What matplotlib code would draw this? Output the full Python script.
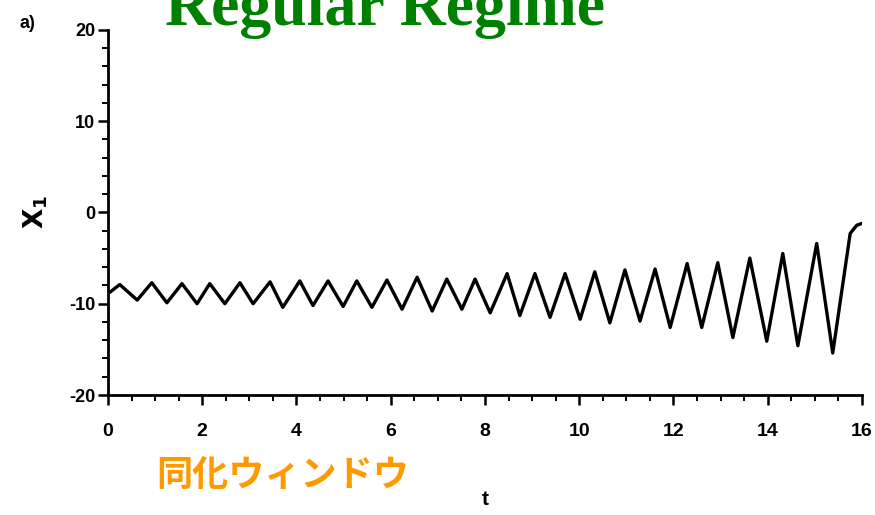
import numpy as np
import matplotlib
matplotlib.use("Agg")
import matplotlib.pyplot as plt
from matplotlib.ticker import MultipleLocator

# peaks and troughs of x1(t)
t = [0.0, 0.25, 0.62, 0.93, 1.25, 1.57, 1.89, 2.16, 2.48, 2.80, 3.08, 3.44,
     3.71, 4.07, 4.35, 4.67, 4.99, 5.28, 5.60, 5.92, 6.24, 6.56, 6.88, 7.19,
     7.51, 7.79, 8.11, 8.47, 8.74, 9.06, 9.38, 9.70, 10.02, 10.33, 10.65,
     10.97, 11.29, 11.61, 11.93, 12.29, 12.60, 12.94, 13.26, 13.62, 13.98,
     14.32, 14.64, 15.04, 15.38, 15.75, 15.89, 16.0]
x1 = [-8.9, -7.9, -9.6, -7.7, -9.9, -7.8, -10.0, -7.8, -10.0, -7.7, -10.0, -7.6,
      -10.4, -7.5, -10.2, -7.5, -10.3, -7.5, -10.4, -7.4, -10.6, -7.1, -10.8, -7.3,
      -10.6, -7.3, -11.0, -6.7, -11.3, -6.7, -11.5, -6.7, -11.7, -6.5, -12.1,
      -6.3, -11.9, -6.2, -12.6, -5.6, -12.6, -5.5, -13.7, -5.0, -14.1,
      -4.5, -14.6, -3.4, -15.4, -2.3, -1.4, -1.2]

x_ticks = [0, 2, 4, 6, 8, 10, 12, 14, 16]
y_ticks = [-20, -10, 0, 10, 20]

fig = plt.figure(figsize=(8.75, 5.15), dpi=100)
ax = fig.add_axes([0.1234, 0.233, 0.8617, 0.709])

ax.plot(t, x1, color="black", linewidth=2.4, solid_joinstyle="round",
        solid_capstyle="round")

ax.set_xlim(0, 16)
ax.set_ylim(-20, 20)
ax.set_xticks(x_ticks)
ax.set_yticks(y_ticks)
ax.xaxis.set_minor_locator(MultipleLocator(0.5))
ax.yaxis.set_minor_locator(MultipleLocator(2))

for side in ["top", "right"]:
    ax.spines[side].set_visible(False)
for side in ["left", "bottom"]:
    ax.spines[side].set_linewidth(2)

ax.set_xticklabels([str(v) for v in x_ticks],
                   fontdict={"family": "Liberation Sans", "weight": "bold", "size": 14})
ax.set_yticklabels([str(v) for v in y_ticks],
                   fontdict={"family": "Liberation Sans", "weight": "bold", "size": 13})
ax.tick_params(axis="both", which="major", length=7, width=1.8, direction="out")
ax.tick_params(axis="both", which="minor", length=4, width=1.4, direction="out")
ax.tick_params(axis="x", which="major", pad=13)
ax.tick_params(axis="y", which="major", pad=2)

ax.set_xlabel("t", fontsize=15, fontweight="bold", family="Liberation Sans",
              labelpad=36)
ax.set_ylabel(r"$\mathbf{X_1}$", fontsize=19, labelpad=14)

fig.text(0.022, 0.955, "a)", fontsize=13, fontweight="bold",
         family="Liberation Sans", ha="left", va="center")

fig.text(0.1886, 0.9515, "Regular Regime", fontsize=46, fontweight="bold",
         family="Liberation Serif", color="#008000", ha="left", va="baseline")

fig.text(0.179, 0.077, "同化ウィンドウ", fontsize=26, fontweight="bold",
         family=["Noto Sans CJK JP", "DejaVu Sans"], color="#FF9900",
         ha="left", va="center")

fig.savefig("out.png", dpi=100)
